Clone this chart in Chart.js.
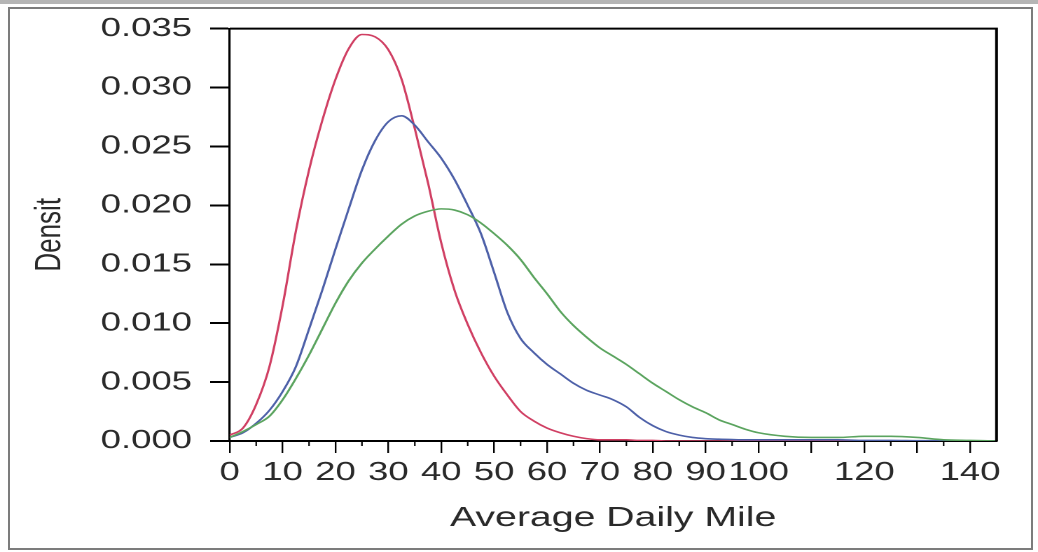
<!DOCTYPE html>
<html>
<head>
<meta charset="utf-8">
<script src="https://cdn.jsdelivr.net/npm/chart.js@4"></script>
<style>
  html, body { margin: 0; padding: 0; background: #fff; }
  #page { position: relative; width: 1038px; height: 552px; overflow: hidden; background: #fff; }
  #topband { position: absolute; left: 0; top: 0; width: 1038px; height: 4px; background: #b5b5b5; }
  #frame { position: absolute; left: 8px; top: 7px; width: 1021px; height: 539px; border: 2px solid #7c7c7c; }
  /* the original picture is stretched sideways, so the chart is drawn narrow and widened */
  #wrap { position: absolute; left: 0; top: 0; width: 741px; height: 552px; transform: scaleX(1.4008); transform-origin: 0 0; }
</style>
</head>
<body>
<div id="page">
  <div id="topband"></div>
  <div id="frame"></div>
  <div id="wrap"><canvas id="densityChart" width="741" height="552"></canvas></div>
</div>
<script>
  // Average daily mile (x) values where the curves were read
  const miles = [0, 2.5, 5, 7.5, 10, 12.5, 15, 17.5, 20, 22.5, 25, 27.5, 30, 32.5, 35, 37.5, 40, 42.5, 45, 47.5,
    50, 52.5, 55, 57.5, 60, 62.5, 65, 67.5, 70, 72.5, 75, 77.5, 80, 82.5, 85, 87.5, 90, 92.5, 95, 97.5,
    100, 105, 110, 115, 120, 125, 130, 135, 140, 145];

  const redDensity = [0.0005, 0.0011, 0.0031, 0.0063, 0.0115, 0.0178, 0.0230, 0.0272, 0.0307, 0.0333,
    0.0345, 0.0343, 0.0332, 0.0307, 0.0265, 0.0219, 0.0168, 0.0128, 0.0099, 0.0075,
    0.0055, 0.0039, 0.0025, 0.0017, 0.0011, 0.0007, 0.0004, 0.0002, 0.0001, 0.0001,
    0.0001, 0.00005, 0.00005, 0, 0, 0, 0, 0, 0, 0,
    0, 0, 0, 0, 0, 0, 0, 0, 0, 0];

  const blueDensity = [0.0003, 0.0007, 0.0015, 0.0026, 0.0042, 0.0063, 0.0095, 0.0128, 0.0163, 0.0197,
    0.0230, 0.0255, 0.0271, 0.0276, 0.0268, 0.0254, 0.0240, 0.0222, 0.0200, 0.0176,
    0.0143, 0.0109, 0.0087, 0.0075, 0.0065, 0.0057, 0.0049, 0.0043, 0.0039, 0.0035,
    0.0029, 0.0020, 0.0013, 0.0008, 0.0005, 0.0003, 0.0002, 0.00015, 0.00012, 0.0001,
    0.0001, 0.0001, 0.0001, 0.0001, 0.00005, 0.00005, 0.00003, 0.00002, 0.00001, 0];

  const greenDensity = [0.0003, 0.0008, 0.0014, 0.0021, 0.0035, 0.0053, 0.0073, 0.0095, 0.0117, 0.0136,
    0.0151, 0.0163, 0.0174, 0.0184, 0.0191, 0.0195, 0.0197, 0.0196, 0.0192, 0.0185,
    0.0176, 0.0166, 0.0154, 0.0139, 0.0125, 0.0110, 0.0098, 0.0088, 0.0079, 0.0072,
    0.0065, 0.0057, 0.0049, 0.0042, 0.0035, 0.0029, 0.0024, 0.0018, 0.0014, 0.0010,
    0.0007, 0.0004, 0.0003, 0.0003, 0.0004, 0.0004, 0.0003, 0.0001, 0.00005, 0];

  const hiddenXLabels = [110, 130];
  const minorXTicks = [5, 15, 25, 35, 45, 55, 65, 75, 85, 95, 105, 115, 125, 135];

  function toPoints(values) {
    return values.map((v, i) => ({ x: miles[i], y: v }));
  }

  function curve(values, color) {
    return {
      data: toPoints(values),
      borderColor: color,
      borderWidth: 1.6,
      pointRadius: 0,
      fill: false,
      cubicInterpolationMode: 'monotone'
    };
  }

  // top/right box edges and the short minor ticks on the x axis
  const boxAndMinorTicks = {
    id: 'boxAndMinorTicks',
    afterDraw(chart) {
      const { ctx, chartArea: a, scales: { x } } = chart;
      ctx.save();
      ctx.strokeStyle = '#000';
      ctx.lineWidth = 2;
      ctx.beginPath();
      ctx.moveTo(a.left, a.top);
      ctx.lineTo(a.right, a.top);
      ctx.lineTo(a.right, a.bottom);
      ctx.stroke();
      ctx.lineWidth = 1.1;
      ctx.beginPath();
      minorXTicks.forEach(v => {
        const px = x.getPixelForValue(v);
        ctx.moveTo(px, a.bottom);
        ctx.lineTo(px, a.bottom + 5);
      });
      ctx.stroke();
      ctx.restore();
    }
  };

  const fontFamily = "'Liberation Sans', Arial, sans-serif";

  new Chart(document.getElementById('densityChart').getContext('2d'), {
    type: 'line',
    data: {
      datasets: [
        curve(greenDensity, '#5ba45f'),
        curve(blueDensity, '#4d60a8'),
        curve(redDensity, '#d03f63')
      ]
    },
    options: {
      responsive: false,
      animation: false,
      devicePixelRatio: 2,
      layout: { padding: { left: 8, right: 29.6, top: 28, bottom: 0 } },
      plugins: { legend: { display: false }, tooltip: { enabled: false } },
      scales: {
        x: {
          type: 'linear',
          min: 0,
          max: 145,
          afterFit: s => { s.height = 111; },
          ticks: {
            stepSize: 10,
            includeBounds: false,
            autoSkip: false,
            maxRotation: 0,
            padding: 4,
            color: '#2a2a2a',
            font: { family: fontFamily, size: 26 },
            callback: v => hiddenXLabels.includes(v) ? '' : v
          },
          grid: { drawOnChartArea: false, tickLength: 12, color: '#000', lineWidth: 1.2 },
          border: { color: '#000', width: 2 },
          title: {
            display: true,
            text: 'Average Daily Mile',
            color: '#2a2a2a',
            font: { family: fontFamily, size: 28 },
            padding: { top: 0, bottom: 17 }
          }
        },
        y: {
          min: 0,
          max: 0.035,
          afterFit: s => { s.width = 156; },
          ticks: {
            stepSize: 0.005,
            padding: 13,
            color: '#2a2a2a',
            font: { family: fontFamily, size: 26 },
            callback: v => v.toFixed(3)
          },
          grid: { drawOnChartArea: false, tickLength: 14, color: '#000', lineWidth: 2 },
          border: { color: '#000', width: 1.6 },
          title: {
            display: true,
            text: 'Densit',
            color: '#2a2a2a',
            font: { family: fontFamily, size: 26 },
            padding: { top: 12, bottom: 0 }
          }
        }
      }
    },
    plugins: [boxAndMinorTicks]
  });
</script>
</body>
</html>
